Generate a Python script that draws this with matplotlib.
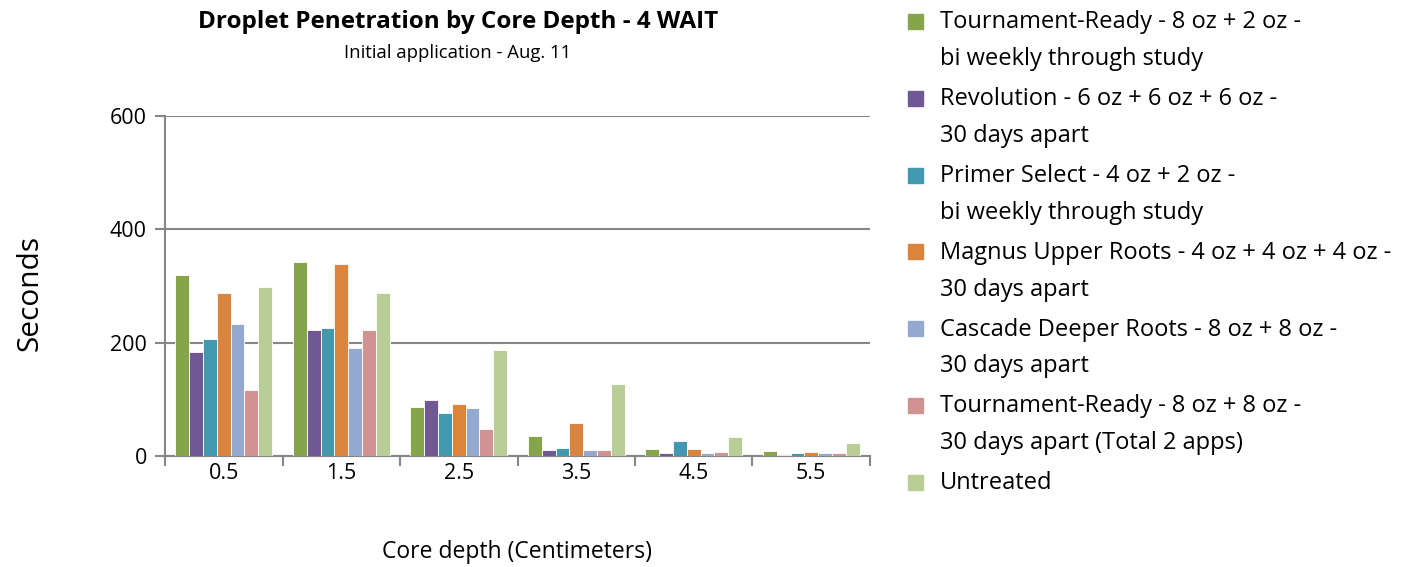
import numpy as np
import matplotlib.pyplot as plt
from matplotlib.patches import Rectangle

# data
depths = ["0.5", "1.5", "2.5", "3.5", "4.5", "5.5"]
series_names = [
    "Tournament-Ready - 8 oz + 2 oz -\nbi weekly through study",
    "Revolution - 6 oz + 6 oz + 6 oz -\n30 days apart",
    "Primer Select - 4 oz + 2 oz -\nbi weekly through study",
    "Magnus Upper Roots - 4 oz + 4 oz + 4 oz -\n30 days apart",
    "Cascade Deeper Roots - 8 oz + 8 oz -\n30 days apart",
    "Tournament-Ready - 8 oz + 8 oz -\n30 days apart (Total 2 apps)",
    "Untreated",
]
tr_biweekly = [320, 342, 87, 35, 12, 9]
revolution = [183, 223, 99, 11, 6, 2]
primer = [207, 226, 76, 14, 27, 5]
magnus = [288, 339, 91, 58, 12, 7]
cascade = [233, 190, 85, 11, 6, 5]
tr_monthly = [117, 222, 48, 10, 7, 6]
untreated = [299, 287, 187, 127, 33, 23]
values = [tr_biweekly, revolution, primer, magnus, cascade, tr_monthly, untreated]

colors = ["#86A44A", "#6F5893", "#4198AF", "#DB843D", "#93A9CF", "#D19392", "#B9CD96"]

plt.rcParams['font.family'] = ['Open Sans', 'DejaVu Sans']

fig = plt.figure(figsize=(14.27, 5.67), dpi=100)
ax = fig.add_axes([165/1427, 1-456/567, 705/1427, 340/567])

n = len(values)
w = 1/(n+1.5)
x = np.arange(len(depths))
for i, (vals, c) in enumerate(zip(values, colors)):
    ax.bar(x - n*w/2 + (i+0.5)*w, vals, w, color=c, edgecolor='white', linewidth=0.6, zorder=3)

ax.set_xlim(-0.5, len(depths)-0.5)
ax.set_ylim(0, 600)
ax.set_yticks([0, 200, 400, 600])
ax.set_xticks(x)
ax.set_xticklabels(depths)
ax.set_xticks(np.arange(-0.5, len(depths)), minor=True)
ax.tick_params(axis='x', which='major', length=0, pad=5, labelsize=15.5)
ax.tick_params(axis='x', which='minor', length=7, width=1.5, color='#868686', direction='out')
ax.tick_params(axis='y', length=7, width=1.5, color='#868686', labelsize=15.5, pad=6)
ax.grid(axis='y', color='#868686', linewidth=1.5, zorder=0)
for s in ['top', 'right']:
    ax.spines[s].set_visible(False)
for s in ['left', 'bottom']:
    ax.spines[s].set_color('#868686')
    ax.spines[s].set_linewidth(1.5)

ax.set_xlabel("Core depth (Centimeters)", fontsize=16.5, labelpad=40)
fig.text(30/1427, 1-293/567, "Seconds", rotation=90, fontsize=21.5, ha='center', va='center')

fig.text(458/1427, 1-22/567, "Droplet Penetration by Core Depth - 4 WAIT",
         fontsize=17.5, fontweight='bold', ha='center', va='center')
fig.text(458/1427, 1-53/567, "Initial application - Aug. 11", fontsize=13.3,
         ha='center', va='center')

# legend drawn by hand so the square sits on the first line
y0 = 8
for i, (name, c) in enumerate(zip(series_names, colors)):
    yy = y0 + i*76.8
    fig.add_artist(Rectangle((908/1427, 1-(yy+21)/567), 15/1427, 15/567,
                             transform=fig.transFigure, color=c))
    fig.text(940/1427, 1-(yy+2.5)/567, name, fontsize=17, ha='left', va='top',
             linespacing=1.7, transform=fig.transFigure)

fig.savefig("out.png", dpi=100)
